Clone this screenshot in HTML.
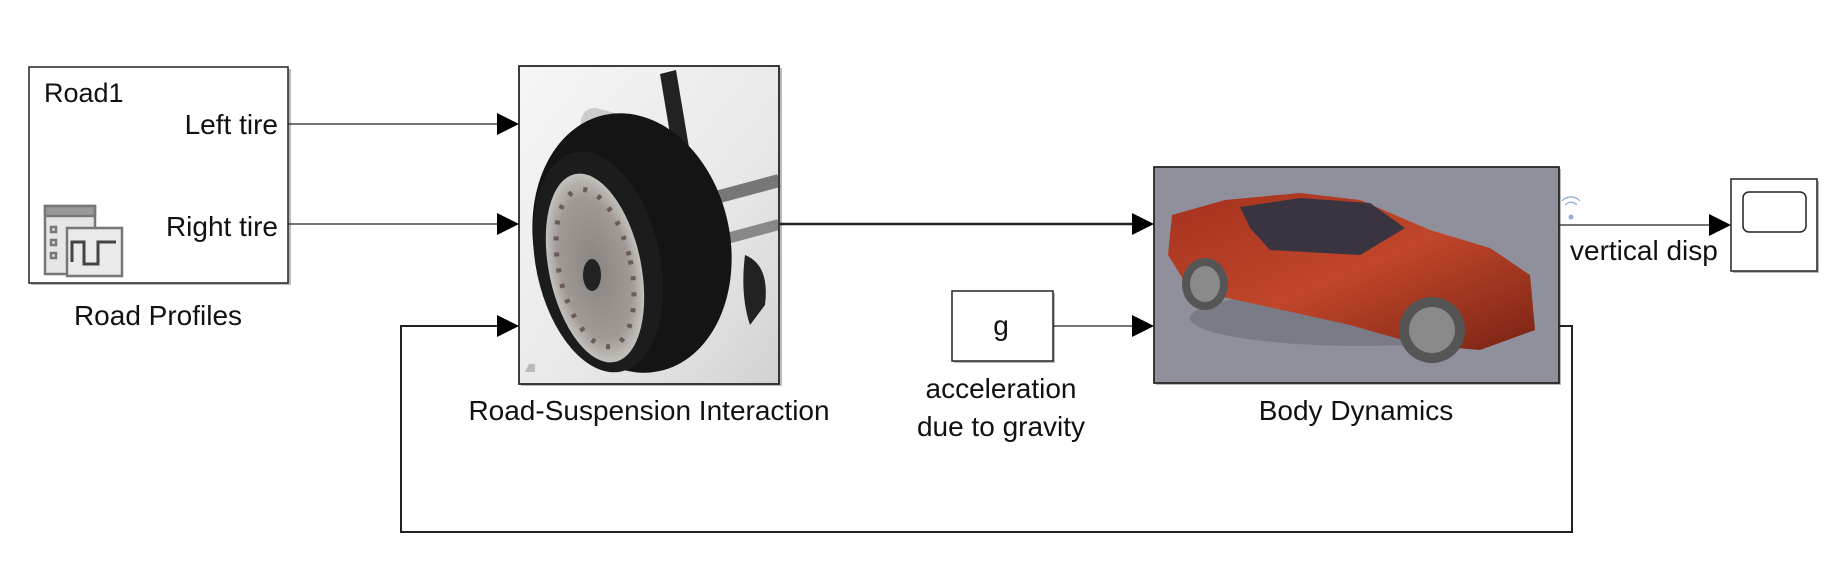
<!DOCTYPE html>
<html><head><meta charset="utf-8"><style>
html,body{margin:0;padding:0;background:#fff;}
svg{display:block;font-family:"Liberation Sans",sans-serif;}
</style></head><body>
<svg width="1831" height="565" viewBox="0 0 1831 565" xmlns="http://www.w3.org/2000/svg">
<defs>
<linearGradient id="sbg" x1="0" y1="0" x2="1" y2="1"><stop offset="0" stop-color="#f6f6f6"/><stop offset="0.6" stop-color="#e8e8e8"/><stop offset="1" stop-color="#d2d2d2"/></linearGradient>
<radialGradient id="rim" cx="0.5" cy="0.5" r="0.5"><stop offset="0" stop-color="#8a8480"/><stop offset="0.75" stop-color="#a09a96"/><stop offset="1" stop-color="#c4c0bc"/></radialGradient>
<linearGradient id="car" x1="0" y1="0" x2="1" y2="1"><stop offset="0" stop-color="#a4321e"/><stop offset="0.5" stop-color="#c0462a"/><stop offset="1" stop-color="#7a2414"/></linearGradient>
</defs>
<rect x="31" y="69" width="260" height="216" fill="#bbb"/>
<rect x="521" y="68" width="261" height="318" fill="#bbb"/>
<rect x="1156" y="169" width="405" height="216" fill="#bbb"/>
<rect x="954" y="293" width="101" height="70" fill="#bbb"/>
<rect x="1733" y="181" width="86" height="92" fill="#bbb"/>
<!-- Road profiles -->
<rect x="29" y="67" width="259" height="216" fill="#fff" stroke="#222" stroke-width="1.5"/>
<text x="44" y="102" font-size="27" fill="#111">Road1</text>
<text x="278" y="134" font-size="28" text-anchor="end" fill="#111">Left tire</text>
<text x="278" y="236" font-size="28" text-anchor="end" fill="#111">Right tire</text>
<g stroke="#777" stroke-width="2.5" fill="none">
<rect x="45" y="206" width="50" height="68" fill="#e6e6e6"/>
<rect x="45" y="206" width="50" height="10" fill="#999"/>
<rect x="51" y="227" width="5" height="5"/><rect x="51" y="240" width="5" height="5"/><rect x="51" y="253" width="5" height="5"/>
<rect x="67" y="228" width="55" height="48" fill="#eaeaea"/>
<path d="M72 262 V242 H84 V264 H98 V242 H116" stroke="#444" stroke-width="3"/>
</g>
<text x="158" y="325" font-size="28" text-anchor="middle" fill="#111">Road Profiles</text>
<!-- Suspension -->
<rect x="519" y="66" width="260" height="318" fill="url(#sbg)" stroke="#222" stroke-width="1.5"/>
<g>
<rect x="585" y="105" width="75" height="28" rx="13" fill="#ccc" transform="rotate(15 585 105)"/>
<path d="M660 74 L676 70 L702 225 L686 230 Z" fill="#222"/>
<rect x="700" y="195" width="80" height="13" fill="#777" transform="rotate(-15 700 195)"/>
<rect x="700" y="240" width="80" height="11" fill="#888" transform="rotate(-15 700 240)"/>
<path d="M745 255 q25 10 20 50 l-15 20 q-10 -30 -5 -70z" fill="#222"/>
<ellipse cx="632" cy="243" rx="98" ry="131" fill="#141414" transform="rotate(-12 632 243)"/>
<ellipse cx="598" cy="262" rx="62" ry="112" fill="#1c1c1c" transform="rotate(-12 598 262)"/>
<ellipse cx="595" cy="268" rx="46" ry="96" fill="url(#rim)" transform="rotate(-12 595 268)"/>
<ellipse cx="595" cy="268" rx="36" ry="80" fill="none" stroke="#6a5a58" stroke-width="5" stroke-dasharray="4 12" transform="rotate(-12 595 268)"/>
<ellipse cx="592" cy="275" rx="9" ry="16" fill="#222"/>
<path d="M525 372 h10 v-8 h-6z" fill="#bbb"/>
</g>
<rect x="519" y="66" width="260" height="318" fill="none" stroke="#222" stroke-width="1.5"/>
<text x="649" y="420" font-size="28" text-anchor="middle" fill="#111">Road-Suspension Interaction</text>
<!-- Body -->
<rect x="1154" y="167" width="405" height="216" fill="#8f909b" stroke="#222" stroke-width="1.5"/>
<g>
<ellipse cx="1360" cy="318" rx="170" ry="28" fill="#7a7b86"/>
<path d="M1172 215 L1225 200 L1300 193 L1360 200 L1430 230 L1490 248 L1530 275 L1535 330 L1480 350 L1420 345 L1350 325 L1260 305 L1190 290 L1168 255 Z" fill="url(#car)"/>
<path d="M1240 207 L1300 198 L1370 203 L1405 228 L1360 255 L1270 250 L1250 228Z" fill="#3a3440"/>
<ellipse cx="1205" cy="284" rx="23" ry="26" fill="#555"/><ellipse cx="1205" cy="284" rx="15" ry="18" fill="#8a8a8a"/>
<ellipse cx="1432" cy="330" rx="33" ry="33" fill="#555"/><ellipse cx="1432" cy="330" rx="23" ry="23" fill="#8a8a8a"/>
</g>
<rect x="1154" y="167" width="405" height="216" fill="none" stroke="#222" stroke-width="1.5"/>
<text x="1356" y="420" font-size="28" text-anchor="middle" fill="#111">Body Dynamics</text>
<!-- g -->
<rect x="952" y="291" width="101" height="70" fill="#fff" stroke="#222" stroke-width="1.5"/>
<text x="1001" y="335" font-size="28" text-anchor="middle" fill="#111">g</text>
<text x="1001" y="398" font-size="28" text-anchor="middle" fill="#111">acceleration</text>
<text x="1001" y="436" font-size="28" text-anchor="middle" fill="#111">due to gravity</text>
<!-- Scope -->
<rect x="1731" y="179" width="86" height="92" fill="#fff" stroke="#222" stroke-width="1.5"/>
<rect x="1743" y="192" width="63" height="40" rx="6" fill="#fff" stroke="#222" stroke-width="1.5"/>
<text x="1570" y="260" font-size="28" fill="#111">vertical disp</text>
<g stroke="#8fb0d8" fill="none" stroke-width="1.3"><path d="M1565 205 a8 8 0 0 1 12 0"/><path d="M1562 201 a12 12 0 0 1 18 0"/></g>
<circle cx="1571" cy="217" r="2.5" fill="#8fb0d8"/>
<!-- connectors -->
<g stroke="#222" fill="none">
<line x1="288" y1="124" x2="500" y2="124" stroke-width="1.2"/>
<line x1="288" y1="224" x2="500" y2="224" stroke-width="1.2"/>
<line x1="780" y1="224" x2="1134" y2="224" stroke-width="2.5"/>
<line x1="1053" y1="326" x2="1134" y2="326" stroke-width="1.2"/>
<line x1="1559" y1="225" x2="1711" y2="225" stroke-width="1.2"/>
<polyline points="1559,326 1572,326 1572,532 401,532 401,326 500,326" stroke-width="2"/>
</g>
<g fill="#000">
<polygon points="497,113 519,124 497,135"/>
<polygon points="497,213 519,224 497,235"/>
<polygon points="497,315 519,326 497,337"/>
<polygon points="1132,213 1154,224 1132,235"/>
<polygon points="1132,315 1154,326 1132,337"/>
<polygon points="1709,214 1731,225 1709,236"/>
</g>
</svg>
</body></html>
